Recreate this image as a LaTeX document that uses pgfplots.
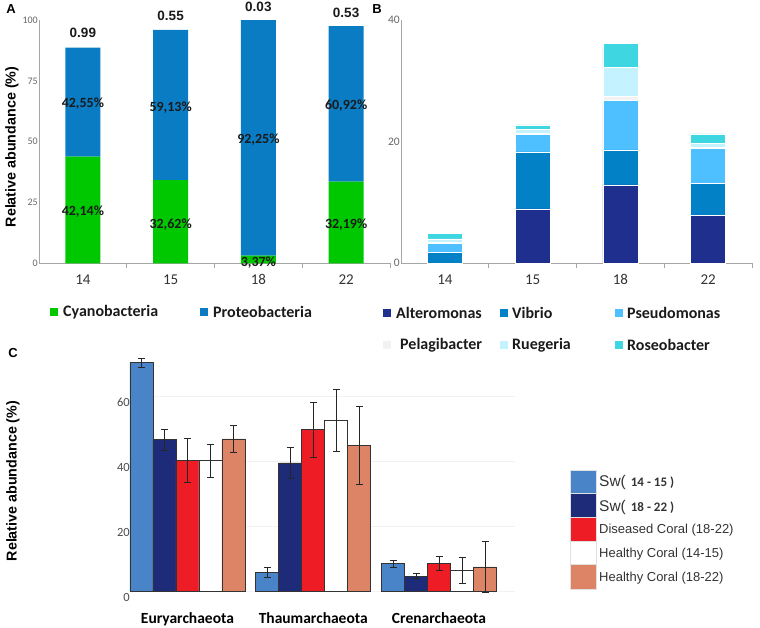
\documentclass[border=0pt]{standalone}
\usepackage{pgfplots}
\pgfplotsset{compat=1.18}
\usepackage{fontspec}
\setmainfont{Carlito}
\newfontfamily\arial{Liberation Sans}
\definecolor{cyano}{HTML}{00C800}
\definecolor{proteo}{HTML}{0A7CC4}
\definecolor{altero}{HTML}{1F2F8E}
\definecolor{vibrio}{HTML}{0381C6}
\definecolor{pseudo}{HTML}{4FC0FF}
\definecolor{pelagi}{HTML}{F2F2F2}
\definecolor{ruege}{HTML}{C4F3FF}
\definecolor{roseo}{HTML}{3ED6E0}
\definecolor{swa}{HTML}{4A84C8}
\definecolor{swb}{HTML}{1E2B78}
\definecolor{dis}{HTML}{EE1C24}
\definecolor{hcb}{HTML}{DE8466}
\definecolor{axgray}{HTML}{A6A6A6}
\definecolor{txt}{HTML}{1A1A1A}
\newcommand{\fs}[1]{\fontsize{#1}{#1}\selectfont}
\tikzset{
  pct/.style={font=\bfseries\fs{14}, text=txt},
  pval/.style={font=\arial\bfseries\fs{13.5}, text=txt},
  leg/.style={font=\bfseries\fs{16}, text=txt, anchor=west, inner sep=0pt},
  legc/.style={font=\arial\fs{13}, text=black!80, anchor=west, inner sep=0pt},
}
\pgfplotsset{
  panelAB/.style={
    anchor=south west, scale only axis, clip=false,
    xmin=-0.5, xmax=3.5, ymin=0,
    axis x line=bottom, axis y line=left,
    axis line style={axgray, line width=0.8pt, -},
    ybar stacked, bar width=35pt,
    xtick={0,1,2,3}, xticklabels={14,15,18,22},
    minor xtick={0.5,1.5,2.5,3.5},
    major tick length=0pt, minor tick length=5pt,
    tick align=outside,
    minor x tick style={axgray, line width=0.8pt},
    /pgf/number format/assume math mode=true,
    xticklabel style={font=\fs{15}, text=black!80, inner sep=0pt, yshift=-11pt},
    yticklabel style={text=black!60, inner sep=1pt},
  },
  cbar/.style={draw=black!80, line width=0.8pt,
    error bars/y dir=both, error bars/y explicit,
    error bars/error bar style={black!85, line width=0.8pt},
    error bars/error mark options={rotate=90, mark size=3.5pt, line width=0.8pt, black!85}},
}
\begin{document}
\begin{tikzpicture}[x=1pt,y=1pt]
\path[use as bounding box] (0,0) rectangle (760,-627);

% ---------------- Panel A ----------------
\begin{axis}[panelAB, at={(39pt,-263.3pt)}, width=351pt, height=243.3pt,
  ymax=100, ytick={0,25,50,75,100},
  yticklabel style={font=\fs{10}}]
\addplot[fill=cyano, draw=none] coordinates {(0,43.8) (1,34.2) (2,3.2) (3,33.6)};
\addplot[fill=proteo, draw=none] coordinates {(0,44.8) (1,61.7) (2,96.8) (3,63.9)};
\coordinate (a1) at (axis cs:0,65.7);
\coordinate (a2) at (axis cs:0,21.2);
\coordinate (a3) at (axis cs:1,64.0);
\coordinate (a4) at (axis cs:1,16.0);
\coordinate (a5) at (axis cs:2,51.0);
\coordinate (a6) at (axis cs:2,0.4);
\coordinate (a7) at (axis cs:3,64.7);
\coordinate (a8) at (axis cs:3,15.8);
\coordinate (v1) at (axis cs:0,94.6);
\coordinate (v2) at (axis cs:1,101.6);
\coordinate (v3) at (axis cs:2,105.3);
\coordinate (v4) at (axis cs:3,102.9);
\end{axis}
\node[pct] at (a1) {42,55\%};
\node[pct] at (a2) {42,14\%};
\node[pct] at (a3) {59,13\%};
\node[pct] at (a4) {32,62\%};
\node[pct] at (a5) {92,25\%};
\node[pct] at (a6) {3,37\%};
\node[pct] at (a7) {60,92\%};
\node[pct] at (a8) {32,19\%};
\node[pval] at (v1) {0.99};
\node[pval] at (v2) {0.55};
\node[pval] at (v3) {0.03};
\node[pval] at (v4) {0.53};

% ---------------- Panel B ----------------
\begin{axis}[panelAB, at={(401pt,-263.3pt)}, width=351pt, height=243.3pt,
  ymax=40, ytick={0,20,40},
  yticklabel style={font=\fs{11.5}}]
\addplot[fill=altero, draw=white, line width=0.5pt] coordinates {(0,0) (1,8.93) (2,12.88) (3,7.84)};
\addplot[fill=vibrio, draw=white, line width=0.5pt] coordinates {(0,1.75) (1,9.37) (2,5.75) (3,5.36)};
\addplot[fill=pseudo, draw=white, line width=0.5pt] coordinates {(0,1.53) (1,2.85) (2,8.11) (3,5.65)};
\addplot[fill=pelagi, draw=white, line width=0.5pt] coordinates {(0,0.15) (1,0.15) (2,0.66) (3,0.15)};
\addplot[fill=ruege, draw=white, line width=0.5pt] coordinates {(0,0.6) (1,0.73) (2,4.8) (3,0.73)};
\addplot[fill=roseo, draw=white, line width=0.5pt] coordinates {(0,0.93) (1,0.71) (2,3.96) (3,1.53)};
\end{axis}

% ---------------- Panel C ----------------
\begin{axis}[at={(132pt,-591pt)}, anchor=south west, scale only axis, clip=false,
  width=383pt, height=243.75pt,
  xmin=-0.441, xmax=2.604, ymin=0, ymax=75,
  axis line style={draw=none},
  ybar=0pt, bar width=23pt,
  xtick={0,1,2}, xticklabels={Euryarchaeota,Thaumarchaeota,Crenarchaeota},
  ytick={0,20,40,60},
  major tick length=0pt,
  ymajorgrids, grid style={black!5, line width=0.6pt},
  /pgf/number format/assume math mode=true,
  xticklabel style={font=\bfseries\fs{15.5}, text=black, inner sep=0pt, yshift=-21pt},
  yticklabel style={font=\fs{12.5}, text=black!70, inner sep=2pt, yshift=-6pt},
]
\addplot[cbar, fill=swa] coordinates {(0,70.2) +- (0,1.4) (1,5.7) +- (0,1.5) (2,8.4) +- (0,1.0)};
\addplot[cbar, fill=swb] coordinates {(0,46.5) +- (0,3.1) (1,39.4) +- (0,4.7) (2,4.6) +- (0,0.7)};
\addplot[cbar, fill=dis] coordinates {(0,40.1) +- (0,6.8) (1,49.6) +- (0,8.5) (2,8.4) +- (0,2.1)};
\addplot[cbar, fill=white] coordinates {(0,40.1) +- (0,5.0) (1,52.5) +- (0,9.4) (2,6.2) +- (0,4.0)};
\addplot[cbar, fill=hcb] coordinates {(0,46.8) +- (0,4.2) (1,44.9) +- (0,12.0) (2,7.4) +- (0,7.8)};
\end{axis}

% ---------------- Panel letters & y labels ----------------
\node[font=\arial\bfseries\fs{13}] at (11,-9) {A};
\node[font=\arial\bfseries\fs{13}] at (377,-9) {B};
\node[font=\arial\bfseries\fs{13}] at (13,-353) {C};
\node[rotate=90, font=\arial\bfseries\fs{14.3}] at (12,-147) {Relative abundance (\%)};
\node[rotate=90, font=\arial\bfseries\fs{14.3}] at (13,-481) {Relative abundance (\%)};

% ---------------- Legend A / B ----------------
\fill[cyano] (50,-308) rectangle (58,-316);
\node[leg] at (63,-312) {Cyanobacteria};
\fill[proteo] (200,-308) rectangle (208,-316);
\node[leg] at (213,-312) {Proteobacteria};
\fill[altero] (383,-309) rectangle (391,-317);
\node[leg] at (396,-313) {Alteromonas};
\fill[vibrio] (500,-309) rectangle (508,-317);
\node[leg] at (512,-313) {Vibrio};
\fill[pseudo] (615,-309) rectangle (623,-317);
\node[leg] at (627,-313) {Pseudomonas};
\fill[pelagi] (383,-341) rectangle (391,-349);
\node[leg] at (400,-345) {Pelagibacter};
\fill[ruege] (500,-341) rectangle (508,-349);
\node[leg] at (512,-345) {Ruegeria};
\fill[roseo] (615,-341) rectangle (623,-349);
\node[leg] at (627,-345) {Roseobacter};

% ---------------- Legend C ----------------
\filldraw[fill=swa, draw=black!12, line width=0.5pt] (570,-470) rectangle (596,-493);
\filldraw[fill=swb, draw=black!12, line width=0.5pt] (570,-493) rectangle (596,-517);
\filldraw[fill=dis, draw=black!12, line width=0.5pt] (570,-517) rectangle (596,-541);
\filldraw[fill=white, draw=black!12, line width=0.5pt] (570,-541) rectangle (596,-564);
\filldraw[fill=hcb, draw=black!12, line width=0.5pt] (570,-564) rectangle (596,-589);
\node[legc] at (599,-482) {{\fs{15.5}Sw(}\hspace{5pt}{\rmfamily\bfseries\fs{13}14 - 15 )}};
\node[legc] at (599,-507) {{\fs{15.5}Sw(}\hspace{5pt}{\rmfamily\bfseries\fs{13}18 - 22 )}};
\node[legc] at (599,-530) {Diseased Coral (18-22)};
\node[legc] at (599,-554) {Healthy Coral (14-15)};
\node[legc] at (599,-578) {Healthy Coral (18-22)};
\end{tikzpicture}
\end{document}
